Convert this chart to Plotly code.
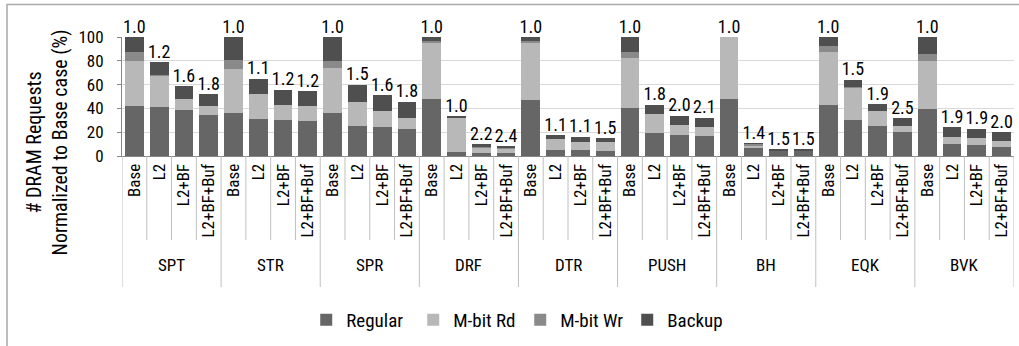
import plotly.graph_objects as go

# Benchmarks and configurations (four bars per benchmark)
groups = ["SPT", "STR", "SPR", "DRF", "DTR", "PUSH", "BH", "EQK", "BVK"]
configs = ["Base", "L2", "L2+BF", "L2+BF+Buf"]

# DRAM requests normalized to the Base case (%), one value per bar
regular = [42.0, 41.0, 39.0, 34.5,
           36.5, 31.0, 30.0, 29.7,
           36.5, 25.5, 24.6, 23.0,
           47.6, 3.6, 2.8, 2.8,
           47.0, 5.0, 5.0, 4.5,
           40.6, 19.6, 17.6, 16.8,
           47.6, 6.5, 4.5, 4.5,
           42.9, 30.3, 25.2, 20.4,
           39.5, 10.0, 9.2, 7.8]
mbit_rd = [38.0, 27.0, 9.0, 7.5,
           36.5, 21.5, 13.0, 12.3,
           37.7, 20.0, 13.0, 9.0,
           47.6, 28.0, 4.0, 3.6,
           48.0, 9.0, 7.0, 7.0,
           41.4, 15.4, 8.4, 7.6,
           52.4, 2.5, 0.4, 0.4,
           44.7, 27.0, 12.6, 4.8,
           40.3, 6.2, 5.6, 4.8]
mbit_wr = [7.0, 0.3, 0.0, 0.0,
           8.0, 0.0, 0.0, 0.0,
           6.0, 0.0, 0.0, 0.0,
           1.5, 0.0, 1.0, 0.5,
           1.5, 0.0, 0.0, 0.0,
           5.6, 0.0, 0.0, 0.0,
           0.0, 1.2, 0.0, 0.0,
           4.8, 1.0, 0.0, 0.0,
           6.0, 0.0, 0.0, 0.0]
backup = [13.0, 10.4, 10.8, 10.0,
          19.0, 12.5, 12.5, 12.3,
          19.8, 14.2, 13.4, 13.4,
          3.3, 2.0, 2.0, 1.5,
          3.5, 3.6, 4.0, 3.6,
          12.4, 7.9, 7.9, 7.8,
          0.0, 0.4, 0.8, 0.8,
          7.6, 5.6, 5.6, 6.7,
          14.2, 7.9, 7.9, 7.3]

# Speedup over Base shown above each bar
speedup = [1.0, 1.2, 1.6, 1.8,
           1.0, 1.1, 1.2, 1.2,
           1.0, 1.5, 1.6, 1.8,
           1.0, 1.0, 2.2, 2.4,
           1.0, 1.1, 1.1, 1.5,
           1.0, 1.8, 2.0, 2.1,
           1.0, 1.4, 1.5, 1.5,
           1.0, 1.5, 1.9, 2.5,
           1.0, 1.9, 1.9, 2.0]

series = [("Regular", regular, "#666666"),
          ("M-bit Rd", mbit_rd, "#b8b8b8"),
          ("M-bit Wr", mbit_wr, "#8a8a8a"),
          ("Backup", backup, "#4f4f4f")]

FONT = "Liberation Sans Narrow, Arial Narrow, Roboto Condensed, Liberation Sans, sans-serif"
n_cfg = len(configs)
xpos = list(range(len(groups) * n_cfg))
ticktext = [configs[i % n_cfg] for i in xpos]
totals = [a + b + c + d for a, b, c, d in zip(regular, mbit_rd, mbit_wr, backup)]

fig = go.Figure()
for name, vals, color in series:
    fig.add_trace(go.Bar(x=xpos, y=vals, name=name, marker=dict(color=color, line=dict(width=0))))

fig.add_trace(go.Scatter(
    x=xpos, y=totals, mode="text", text=[f"{v:.1f}" for v in speedup],
    textposition="top center", textfont=dict(size=18, color="#000000", family=FONT),
    showlegend=False, cliponaxis=False, hoverinfo="skip"))

# pixel geometry of the plotting area
W, H = 1019, 346
L, R, T, B = 121.6, 1014.4, 37.0, 156.0
pw, ph = R - L, B - T


def py(p):
    return (B - p) / ph


def px(p):
    return (p - L) / pw


shapes = []
# separators between bars (short) and between benchmarks (long)
for i in range(len(xpos) + 1):
    xb = i - 0.5
    long_line = (i % n_cfg == 0)
    shapes.append(dict(type="line", xref="x", yref="paper", x0=xb, x1=xb,
                       y0=0, y1=py(287 if long_line else 240),
                       line=dict(color="#bfbfbf", width=1)))
# outer chart frame
shapes.append(dict(type="rect", xref="paper", yref="paper", x0=px(6.5), x1=px(1040),
                   y0=py(4.5), y1=py(380), layer="above",
                   line=dict(color="#a8a8a8", width=1.5), fillcolor="rgba(0,0,0,0)"))

annotations = []
for g, name in enumerate(groups):
    annotations.append(dict(x=g * n_cfg + (n_cfg - 1) / 2, y=py(265), xref="x", yref="paper",
                            text=name, showarrow=False, yanchor="middle",
                            font=dict(size=17, family=FONT, color="#000000")))
annotations.append(dict(x=px(47), y=py(142), xref="paper", yref="paper",
                        text="# DRAM Requests<br>Normalized to Base case (%)",
                        textangle=-90, showarrow=False, xanchor="center", yanchor="middle",
                        font=dict(size=20, family=FONT, color="#000000")))

fig.update_layout(
    width=W, height=H, barmode="stack", bargap=0.24,
    margin=dict(l=L, r=W - R, t=T, b=H - B, pad=0),
    paper_bgcolor="#ffffff", plot_bgcolor="#ffffff",
    font=dict(family=FONT, color="#000000"),
    shapes=shapes, annotations=annotations,
    legend=dict(orientation="h", x=px(306), xanchor="left", y=py(320), yanchor="middle",
                font=dict(size=19, family=FONT), entrywidth=62, entrywidthmode="pixels",
                itemclick=False, traceorder="normal"),
)
fig.update_xaxes(range=[-0.5, len(xpos) - 0.5], tickvals=xpos, ticktext=ticktext,
                 tickangle=-90, ticks="", showgrid=False, zeroline=False,
                 showline=True, linecolor="#868686", linewidth=1,
                 tickfont=dict(size=17, family=FONT, color="#000000"))
fig.update_yaxes(range=[0, 100], tickvals=[0, 20, 40, 60, 80, 100], ticks="outside",
                 ticklen=4, tickcolor="#868686", showline=True, linecolor="#868686",
                 gridcolor="#d9d9d9", zeroline=False, ticklabelstandoff=10,
                 tickfont=dict(size=17, family=FONT, color="#000000"))

fig.write_html("out.html")
